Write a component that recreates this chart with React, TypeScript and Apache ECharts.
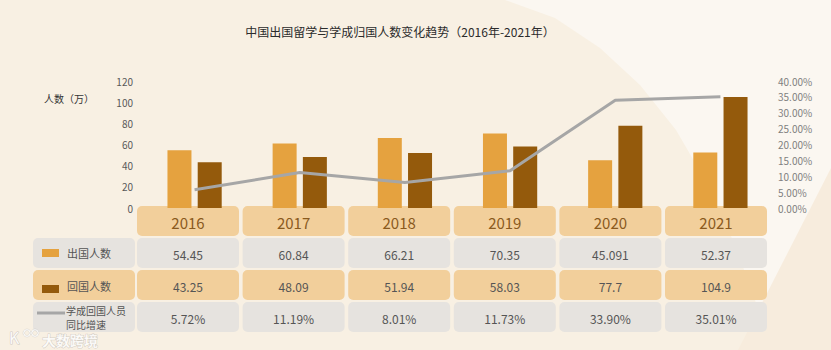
import React, { useEffect, useRef } from "react";
import * as echarts from "echarts";

const years = ["2016", "2017", "2018", "2019", "2020", "2021"];
const outbound = [54.45, 60.84, 66.21, 70.35, 45.091, 52.37];
const returned = [43.25, 48.09, 51.94, 58.03, 77.7, 104.9];
const growth = [5.72, 11.19, 8.01, 11.73, 33.9, 35.01];

const seriesNames = ["出国人数", "回国人数", "学成回国人员同比增速"];
const lineLegendText = "学成回国人员\n同比增速";
const title = "中国出国留学与学成归国人数变化趋势（2016年-2021年）";
const yLeftName = "人数（万）";

const C_OUT = "#E5A23F";
const C_RET = "#945A0C";
const C_LINE = "#A6A6A6";
const C_TAN = "#F2CF9B";
const C_GRAY = "#E6E3DF";
const FONT = "'Noto Sans CJK SC', 'Noto Sans', sans-serif";

export default function App() {
  const ref = useRef<HTMLDivElement>(null);
  useEffect(() => {
    if (!ref.current) return;
    document.body.style.margin = "0";
    const chart = echarts.init(ref.current, null, { renderer: "svg" });

    const colX0 = 137;
    const colStep = 105.6;
    const colW = 102;
    const rowY = [206, 238, 270, 302];
    const rowH = 30;
    const labelX = 33;
    const labelW = 102;

    const graphics: any[] = [];
    // background decorations
    graphics.push({
      type: "polygon",
      z: -10,
      silent: true,
      shape: {
        points: [
          [505, 0], [831, 0], [831, 350], [770, 350], [755, 300], [735, 245],
          [708, 185], [676, 130], [640, 85], [600, 48], [555, 18],
        ],
      },
      style: { fill: "#FBF7F1" },
    });
    graphics.push({
      type: "polygon",
      z: -9,
      silent: true,
      shape: { points: [[831, 168], [831, 350], [738, 350]] },
      style: { fill: "#F7ECDD" },
    });

    // title
    graphics.push({
      type: "text",
      x: 400,
      y: 31,
      style: {
        text: title,
        fontSize: 12,
        fontFamily: FONT,
        fill: "#2b2b2b",
        align: "center",
        verticalAlign: "middle",
      },
    });
    graphics.push({
      type: "text",
      x: 44,
      y: 98,
      style: {
        text: yLeftName,
        fontSize: 10,
        fontFamily: FONT,
        fill: "#333",
        align: "left",
        verticalAlign: "middle",
      },
    });

    // table
    const rowsData: string[][] = [
      years,
      outbound.map((v) => String(v)),
      returned.map((v) => String(v)),
      growth.map((v) => v.toFixed(2) + "%"),
    ];
    const rowFill = [C_TAN, C_GRAY, C_TAN, C_GRAY];
    for (let r = 0; r < 4; r++) {
      if (r > 0) {
        graphics.push({
          type: "rect",
          z: 1,
          shape: { x: labelX, y: rowY[r], width: labelW, height: rowH, r: 5 },
          style: { fill: rowFill[r] },
        });
      }
      for (let i = 0; i < years.length; i++) {
        const x = colX0 + i * colStep;
        graphics.push({
          type: "rect",
          z: 1,
          shape: { x, y: rowY[r], width: colW, height: rowH, r: 5 },
          style: { fill: rowFill[r] },
        });
        graphics.push({
          type: "text",
          z: 2,
          x: x + colW / 2,
          y: rowY[r] + rowH / 2 + 1,
          style: {
            text: rowsData[r][i],
            fontSize: r === 0 ? 15 : 12,
            fontFamily: FONT,
            fill: r === 0 ? "#8A5A1E" : "#555",
            align: "center",
            verticalAlign: "middle",
          },
        });
      }
    }
    // legend column
    graphics.push({
      type: "rect", z: 2,
      shape: { x: 42, y: 249, width: 17, height: 8 },
      style: { fill: C_OUT },
    });
    graphics.push({
      type: "text", z: 2, x: 67, y: 253,
      style: { text: seriesNames[0], fontSize: 11, fontFamily: FONT, fill: "#555", verticalAlign: "middle" },
    });
    graphics.push({
      type: "rect", z: 2,
      shape: { x: 42, y: 285, width: 17, height: 8 },
      style: { fill: C_RET },
    });
    graphics.push({
      type: "text", z: 2, x: 67, y: 286,
      style: { text: seriesNames[1], fontSize: 11, fontFamily: FONT, fill: "#555", verticalAlign: "middle" },
    });
    graphics.push({
      type: "line", z: 2,
      shape: { x1: 37, y1: 313, x2: 65, y2: 313 },
      style: { stroke: C_LINE, lineWidth: 3 },
    });
    graphics.push({
      type: "text", z: 2, x: 66, y: 317,
      style: {
        text: lineLegendText, fontSize: 10, lineHeight: 14, fontFamily: FONT,
        fill: "#555", verticalAlign: "middle",
      },
    });

    // watermark
    graphics.push({
      type: "text", z: 5, x: 9, y: 337,
      style: {
        text: "K", fontSize: 16, fontFamily: FONT, fill: "rgba(255,255,255,0.9)",
        stroke: "rgba(120,120,120,0.35)", lineWidth: 1, verticalAlign: "middle",
      },
    });
    graphics.push({
      type: "ring", z: 5,
      shape: { cx: 27, cy: 333, r: 4, r0: 2.5 },
      style: { fill: "rgba(255,255,255,0.9)", stroke: "rgba(120,120,120,0.3)", lineWidth: 0.5 },
    });
    graphics.push({
      type: "ring", z: 5,
      shape: { cx: 35, cy: 333, r: 4, r0: 2.5 },
      style: { fill: "rgba(255,255,255,0.9)", stroke: "rgba(120,120,120,0.3)", lineWidth: 0.5 },
    });
    graphics.push({
      type: "text", z: 5, x: 42, y: 340,
      style: {
        text: "大数跨境", fontSize: 14, fontWeight: "bold", fontFamily: FONT,
        fill: "rgba(255,255,255,0.85)", stroke: "rgba(120,120,120,0.3)", lineWidth: 1,
        verticalAlign: "middle",
      },
    });

    chart.setOption({
      animation: false,
      backgroundColor: "#F8F0E3",
      textStyle: { fontFamily: FONT },
      grid: { left: 142, right: 58, top: 81, bottom: 142 },
      xAxis: {
        type: "category",
        data: years,
        axisLine: { show: false },
        axisTick: { show: false },
        axisLabel: { show: false },
      },
      yAxis: [
        {
          type: "value",
          min: 0,
          max: 120,
          interval: 20,
          splitLine: { show: false },
          axisLine: { show: false },
          axisTick: { show: false },
          axisLabel: { color: "#595959", fontSize: 10, margin: 9 },
        },
        {
          type: "value",
          min: 0,
          max: 40,
          interval: 5,
          splitLine: { show: false },
          axisLine: { show: false },
          axisTick: { show: false },
          axisLabel: {
            color: "#7f7f7f",
            fontSize: 10,
            margin: 5,
            formatter: (v: number) => v.toFixed(2) + "%",
          },
        },
      ],
      series: [
        {
          name: seriesNames[0],
          type: "bar",
          data: outbound,
          barWidth: 24,
          barGap: "26%",
          itemStyle: { color: C_OUT },
        },
        {
          name: seriesNames[1],
          type: "bar",
          data: returned,
          barWidth: 24,
          itemStyle: { color: C_RET },
        },
        {
          name: seriesNames[2],
          type: "line",
          yAxisIndex: 1,
          data: growth,
          showSymbol: false,
          symbol: "none",
          lineStyle: { color: C_LINE, width: 3 },
          z: 3,
        },
      ],
      graphic: graphics,
    });
    return () => chart.dispose();
  }, []);
  return (
    <div
      ref={ref}
      style={{ width: 831, height: 350, position: "fixed", left: 0, top: 0 }}
    />
  );
}
